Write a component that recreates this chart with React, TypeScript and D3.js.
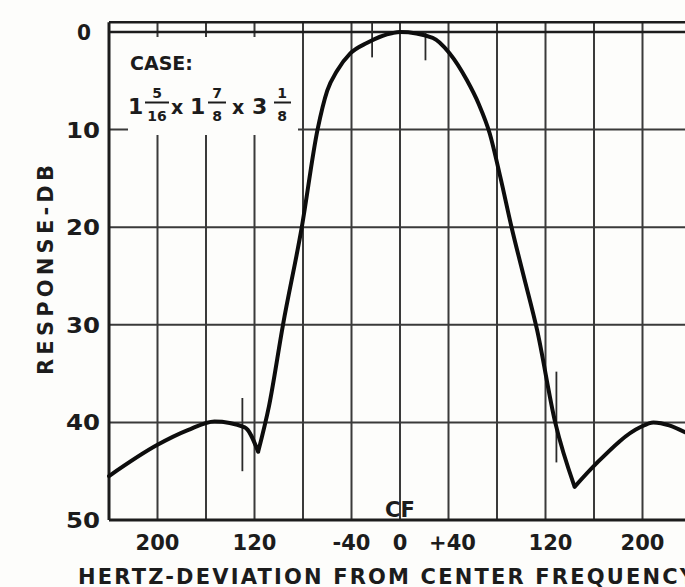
import React from 'react';
import * as d3 from 'd3';

// response curve: deviation (Hz) vs attenuation (dB)
const hertz = [-240, -200, -175, -153, -128, -117, -108, -96.5, -81, -68, -60, -52, -41, -27, -6, 0, 27, 41, 55, 65, 74, 83, 92, 102, 113, 128, 144, 162, 198, 209, 235];
const response = [45.5, 42.3, 40.8, 39.9, 40.5, 43.0, 38.3, 30, 20, 10, 6, 4, 2.2, 1.1, 0.1, 0, 0.6, 2.2, 4.9, 7.4, 10.4, 15, 20, 25, 30.5, 40, 46.6, 44.2, 40.5, 40.0, 41];
// sharp notches where the curve breaks
const notches = [-117, 144];

const gridHz = [-200, -160, -120, -80, -40, 0, 40, 80, 120, 160, 200, 240];
const gridDb = [10, 20, 30, 40];
const yTicks = [0, 10, 20, 30, 40, 50];
const xTickValues = [-200, -120, -40, 0, 40, 120, 200];
const xTickLabels = ['200', '120', '-40', '0', '+40', '120', '200'];

// bandwidth markers: [Hz, dB from, dB to]
const markers: [number, number, number][] = [
  [-130, 37.5, 45],
  [129, 34.8, 44.1],
  [-23, -1, 2.6],
  [21, 0, 2.9],
];

const W = 685;
const H = 587;
const font = "'DejaVu Sans', Verdana, sans-serif";
const ink = '#1c1c1c';

export default function App() {
  const x = d3.scaleLinear().domain([-240, 240]).range([109, 691]);
  const y = d3.scaleLinear().domain([0, 50]).range([32, 520]);

  const pts = hertz.map((h, i) => [h, response[i]] as [number, number]);
  const line = d3.line<[number, number]>()
    .x(d => x(d[0]))
    .y(d => y(d[1]))
    .curve(d3.curveMonotoneX);

  // split the curve at the notches so they stay sharp
  const bounds = [hertz[0], ...notches, hertz[hertz.length - 1]];
  const segments = d3.pairs(bounds).map(([a, b]) => pts.filter(p => p[0] >= a && p[0] <= b));
  const curvePath = segments.map(s => line(s) ?? '').join('');

  const left = x(-240);
  const top = y(-1);
  const bottom = y(50);

  return (
    <svg width={W} height={H} style={{ position: 'absolute', left: 0, top: 0, background: '#fdfdfb' }}>
      {/* vertical grid */}
      {gridHz.map(h => (
        <line key={'v' + h} x1={x(h)} x2={x(h)} y1={top} y2={bottom} stroke="#3a3a3a" strokeWidth={2} />
      ))}
      {/* horizontal grid */}
      {gridDb.map(db => (
        <line key={'h' + db} x1={left} x2={W} y1={y(db)} y2={y(db)} stroke="#3a3a3a" strokeWidth={2} />
      ))}

      {/* blank area behind the case label */}
      <rect x={128} y={37} width={170} height={98} fill="#fdfdfb" />

      {/* frame */}
      <line x1={left} x2={W} y1={top} y2={top} stroke={ink} strokeWidth={2.5} />
      <line x1={left} x2={W} y1={y(0)} y2={y(0)} stroke={ink} strokeWidth={2.5} />
      <line x1={left} x2={W} y1={bottom} y2={bottom} stroke={ink} strokeWidth={3} />
      <line x1={left} x2={left} y1={top} y2={bottom} stroke={ink} strokeWidth={3} />

      {/* markers */}
      {markers.map(([h, a, b], i) => (
        <line key={'m' + i} x1={x(h)} x2={x(h)} y1={y(a)} y2={y(b)} stroke="#2a2a2a" strokeWidth={1.8} />
      ))}

      {/* response curve */}
      <path d={curvePath} fill="none" stroke="#0d0d0d" strokeWidth={4} strokeLinejoin="round" strokeLinecap="round" />

      {/* y tick labels */}
      {yTicks.map(t => (
        <text key={'yt' + t} x={t === 0 ? 91 : 100} y={y(t) + 8} textAnchor="end" fontFamily={font} fontWeight="bold"
          fontSize={21} fill={ink} textLength={t === 0 ? 14 : 34} lengthAdjust="spacingAndGlyphs">{t}</text>
      ))}

      {/* x tick labels */}
      {xTickValues.map((h, i) => (
        <text key={'xt' + i} x={x(h) + (h === 120 ? 5 : h === 40 ? 4 : 0)} y={550} textAnchor="middle"
          fontFamily={font} fontWeight="bold" fontSize={21} fill={ink}>{xTickLabels[i]}</text>
      ))}

      <text x={x(0)} y={517} textAnchor="middle" fontFamily={font} fontWeight="bold" fontSize={21} fill={ink}>CF</text>

      {/* axis titles */}
      <text x={78} y={584} fontFamily={font} fontWeight="bold" fontSize={21} fill={ink}
        textLength={617} lengthAdjust="spacing">HERTZ-DEVIATION FROM CENTER FREQUENCY</text>
      <text transform="translate(53,270) rotate(-90)" textAnchor="middle" fontFamily={font} fontWeight="bold"
        fontSize={21} fill={ink} textLength={210} lengthAdjust="spacing">RESPONSE-DB</text>

      {/* case label */}
      <g fontFamily={font} fontWeight="bold" fill={ink}>
        <text x={130} y={70} fontSize={19}>CASE:</text>
        <text x={128} y={114} fontSize={22}>1</text>
        <text x={157} y={98} fontSize={14} textAnchor="middle">5</text>
        <line x1={145} x2={169} y1={102.5} y2={102.5} stroke={ink} strokeWidth={2} />
        <text x={157} y={121} fontSize={14} textAnchor="middle">16</text>
        <text x={171} y={114} fontSize={19}>x</text>
        <text x={190} y={114} fontSize={22}>1</text>
        <text x={217} y={98} fontSize={14} textAnchor="middle">7</text>
        <line x1={208} x2={226} y1={102.5} y2={102.5} stroke={ink} strokeWidth={2} />
        <text x={217} y={121} fontSize={14} textAnchor="middle">8</text>
        <text x={232} y={114} fontSize={19}>x</text>
        <text x={252} y={114} fontSize={22}>3</text>
        <text x={282} y={98} fontSize={14} textAnchor="middle">1</text>
        <line x1={274} x2={291} y1={102.5} y2={102.5} stroke={ink} strokeWidth={2} />
        <text x={282} y={121} fontSize={14} textAnchor="middle">8</text>
      </g>
    </svg>
  );
}
